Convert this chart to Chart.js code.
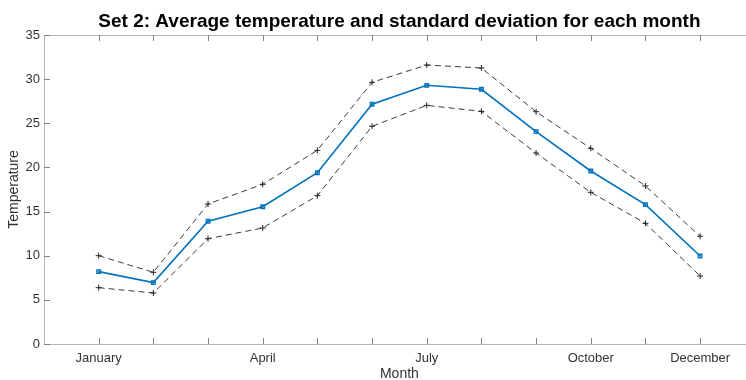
<!DOCTYPE html>
<html>
<head>
<meta charset="utf-8">
<script src="https://cdn.jsdelivr.net/npm/chart.js@4.4.1/dist/chart.umd.min.js"></script>
<style>
    html, body { margin: 0; padding: 0; background: #fff; }
    #wrap { width: 746px; height: 380px; overflow: hidden; }
    canvas { display: block; }
</style>
</head>
<body>
<div id="wrap"><canvas id="chart" width="760" height="380"></canvas></div>
<script>
// Data
const months = ['January', 'February', 'March', 'April', 'May', 'June',
    'July', 'August', 'September', 'October', 'November', 'December'];
const shownMonths = ['January', 'April', 'July', 'October', 'December'];
const meanTemp = [8.2, 6.95, 13.9, 15.55, 19.4, 27.15, 29.3, 28.85, 24.05, 19.6, 15.78, 9.97];
const upperTemp = [10.0, 8.12, 15.86, 18.09, 21.94, 29.64, 31.6, 31.26, 26.31, 22.16, 17.9, 12.2];
const lowerTemp = [6.38, 5.78, 11.93, 13.14, 16.8, 24.66, 27.03, 26.35, 21.63, 17.18, 13.67, 7.7];
const yTicks = [0, 5, 10, 15, 20, 25, 30, 35];

const titleText = 'Set 2: Average temperature and standard deviation for each month';
const font = '"Liberation Sans", Arial, Helvetica, sans-serif';

const toPoints = arr => arr.map((v, i) => ({ x: i + 1, y: v }));

// MATLAB style box: top line and inward tick marks
const boxPlugin = {
    id: 'matlabBox',
    afterDraw(chart) {
        const { ctx, chartArea, scales } = chart;
        const x = scales.x, y = scales.y;
        ctx.save();
        ctx.lineWidth = 1;
        ctx.strokeStyle = '#b4b4b4';
        ctx.beginPath();
        ctx.moveTo(chartArea.left, chartArea.top + 0.5);
        ctx.lineTo(chartArea.right, chartArea.top + 0.5);
        ctx.stroke();

        ctx.strokeStyle = '#808080';
        ctx.beginPath();
        months.forEach((m, i) => {
            const px = Math.round(x.getPixelForValue(i + 1)) + 0.5;
            ctx.moveTo(px, chartArea.bottom);
            ctx.lineTo(px, chartArea.bottom - 6);
            ctx.moveTo(px, chartArea.top);
            ctx.lineTo(px, chartArea.top + 6);
        });
        yTicks.forEach(t => {
            const py = Math.round(y.getPixelForValue(t)) + 0.5;
            ctx.moveTo(chartArea.left, py);
            ctx.lineTo(chartArea.left + 6, py);
        });
        ctx.stroke();

        // title centred over the plot box
        ctx.fillStyle = '#000';
        ctx.font = 'bold 19px ' + font;
        ctx.textAlign = 'center';
        ctx.textBaseline = 'alphabetic';
        ctx.fillText(titleText, (chartArea.left + chartArea.right) / 2, 27);
        ctx.restore();
    }
};

new Chart(document.getElementById('chart'), {
    type: 'line',
    data: {
        datasets: [
            {
                label: 'Mean',
                data: toPoints(meanTemp),
                borderColor: '#0072BD',
                backgroundColor: 'rgba(0,114,189,0.55)',
                borderWidth: 1.6,
                pointStyle: 'rect',
                pointRadius: 2.6,
                pointBorderWidth: 1.2,
                tension: 0
            },
            {
                label: 'Mean + std',
                data: toPoints(upperTemp),
                borderColor: '#3a3a3a',
                borderWidth: 1,
                borderDash: [6, 4],
                pointStyle: 'cross',
                pointRadius: 3,
                pointBorderColor: '#222',
                pointBorderWidth: 1,
                tension: 0
            },
            {
                label: 'Mean - std',
                data: toPoints(lowerTemp),
                borderColor: '#3a3a3a',
                borderWidth: 1,
                borderDash: [6, 4],
                pointStyle: 'cross',
                pointRadius: 3,
                pointBorderColor: '#222',
                pointBorderWidth: 1,
                tension: 0
            }
        ]
    },
    options: {
        responsive: false,
        animation: false,
        layout: { padding: { top: 35, right: 0, bottom: 0, left: 0 } },
        plugins: {
            legend: { display: false },
            tooltip: { enabled: false },
            title: { display: false }
        },
        scales: {
            x: {
                type: 'linear',
                min: 0,
                max: 13,
                afterBuildTicks(scale) {
                    scale.ticks = [0, ...months.map((m, i) => i + 1), 13].map(v => ({ value: v }));
                },
                afterFit(scale) {
                    scale.height = 36;
                    scale.paddingLeft = 0;
                    scale.paddingRight = 0;
                },
                ticks: {
                    autoSkip: false,
                    maxRotation: 0,
                    padding: 0,
                    color: '#333',
                    font: { family: font, size: 13 },
                    callback: (v) => {
                        const name = months[v - 1];
                        return shownMonths.includes(name) ? name : '';
                    }
                },
                grid: { drawOnChartArea: false, drawTicks: true, tickLength: 7, tickColor: 'rgba(0,0,0,0)' },
                border: { display: true, color: '#b4b4b4', width: 1 },
                title: {
                    display: true,
                    text: 'Month',
                    color: '#333',
                    font: { family: font, size: 14, lineHeight: 0.86 },
                    padding: 0
                }
            },
            y: {
                min: 0,
                max: 35,
                afterBuildTicks(scale) {
                    scale.ticks = yTicks.map(v => ({ value: v }));
                },
                afterFit(scale) { scale.width = 44; },
                ticks: {
                    padding: 4,
                    color: '#333',
                    font: { family: font, size: 13 }
                },
                grid: { drawOnChartArea: false, drawTicks: false },
                border: { display: true, color: '#b4b4b4', width: 1 },
                title: {
                    display: true,
                    text: 'Temperature',
                    color: '#333',
                    font: { family: font, size: 14, lineHeight: 1 },
                    padding: { top: 7, bottom: 0 }
                }
            }
        }
    },
    plugins: [boxPlugin]
});
</script>
</body>
</html>
